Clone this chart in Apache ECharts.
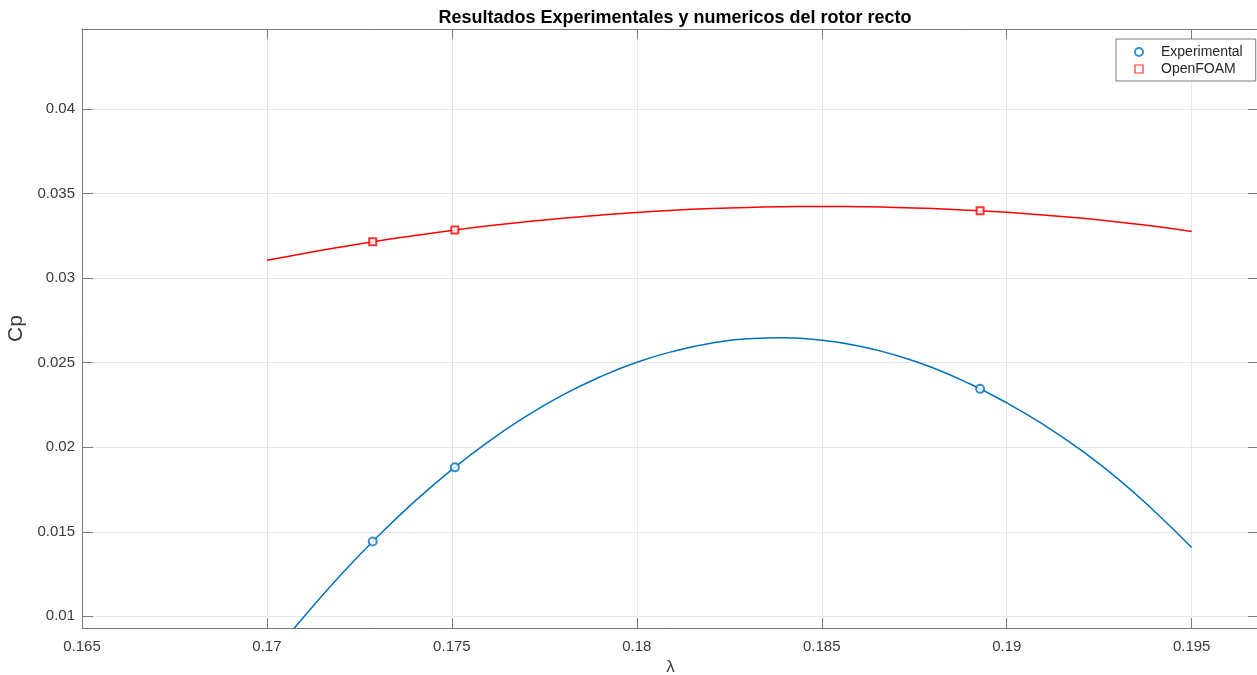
<!DOCTYPE html>
<html>
<head>
<meta charset="utf-8">
<script src="https://cdn.jsdelivr.net/npm/echarts@6/dist/echarts.min.js"></script>
<style>html,body{margin:0;padding:0;background:#fff;}#c{width:1257px;height:675px;}</style>
</head>
<body>
<div id="c"></div>
<script>
// measured points
const lambdaPts = [0.17286, 0.17508, 0.18928];
const cpExperimental = [0.01442, 0.01881, 0.02345];
const cpOpenFOAM = [0.03215, 0.03284, 0.03398];

// fitted curves
const lambdaFit = [0.170,0.171,0.172,0.173,0.174,0.175,0.176,0.177,0.178,0.179,0.180,0.181,0.182,0.183,0.184,0.185,0.186,0.187,0.188,0.189,0.190,0.191,0.192,0.193,0.194,0.195];
const cpExpFit = [0.00730,0.00998,0.01246,0.01473,0.01681,0.01868,0.02035,0.02182,0.02309,0.02415,0.02502,0.02568,0.02615,0.02641,0.02647,0.02633,0.02599,0.02544,0.02470,0.02375,0.02262,0.02133,0.01984,0.01814,0.01620,0.01407];
const cpFoamFit = [0.03105,0.03146,0.03184,0.03220,0.03252,0.03282,0.03309,0.03333,0.03354,0.03372,0.03388,0.03401,0.03411,0.03418,0.03422,0.03424,0.03422,0.03418,0.03411,0.03401,0.03389,0.03373,0.03355,0.03332,0.03306,0.03275];

const xTicks = [0.165,0.17,0.175,0.18,0.185,0.19,0.195];
const yTicks = [0.01,0.015,0.02,0.025,0.03,0.035,0.04];

const fmt = v => String(+(+v).toFixed(4));
const font = '"Liberation Sans", Arial, Helvetica, sans-serif';
const axisCol = '#7a7a7a';
const txtCol = '#3a3a3a';

const chart = echarts.init(document.getElementById('c'));
const zip = (a,b) => a.map((v,i)=>[v,b[i]]);

chart.setOption({
  backgroundColor: '#fff',
  animation: false,
  textStyle: { fontFamily: font },
  title: {
    text: 'Resultados Experimentales y numericos del rotor recto',
    left: 670, top: 4, textAlign: 'center',
    textStyle: { fontFamily: font, fontSize: 18, fontWeight: 'bold', color: '#000' }
  },
  legend: {
    orient: 'vertical', left: 1116, top: 39,
    data: [
      { name: 'Experimental', icon: 'emptyCircle' },
      { name: 'OpenFOAM', icon: 'path://M0,0L10,0L10,10L0,10Z',
        itemStyle: { color: '#fff', borderColor: '#ff0000', borderWidth: 1.2 } }
    ],
    itemWidth: 34, itemHeight: 8, itemGap: 3,
    padding: [6, 13, 5, 18],
    borderColor: axisCol, borderWidth: 1, backgroundColor: '#fff', borderRadius: 0,
    textStyle: { fontFamily: font, fontSize: 14, color: '#262626' }
  },
  grid: { left: 82, top: 29, width: 1177, height: 599, outerBoundsMode: 'none', containLabel: false },
  xAxis: [{
    type: 'value', position: 'bottom', min: 0.165, max: 0.19682,
    axisLine: { show: true, lineStyle: { color: axisCol, width: 1 } },
    axisTick: { show: true, inside: true, length: 10, customValues: xTicks, lineStyle: { color: axisCol } },
    axisLabel: { customValues: xTicks, formatter: fmt, fontSize: 15, color: txtCol, margin: 11, fontFamily: font },
    splitLine: { show: true, lineStyle: { color: '#e6e6e6', width: 1 } },
    name: 'λ', nameLocation: 'middle', nameGap: 22,
    nameTextStyle: { fontSize: 17, color: txtCol, fontFamily: font }
  }, {
    type: 'value', position: 'top', min: 0.165, max: 0.19682,
    axisLine: { show: true, lineStyle: { color: axisCol, width: 1 } },
    axisTick: { show: true, inside: true, length: 10, customValues: xTicks, lineStyle: { color: axisCol } },
    axisLabel: { show: false }, splitLine: { show: false }
  }],
  yAxis: [{
    type: 'value', position: 'left', min: 0.00931, max: 0.04473,
    axisLine: { show: true, lineStyle: { color: axisCol, width: 1 } },
    axisTick: { show: true, inside: true, length: 11, customValues: yTicks, lineStyle: { color: axisCol } },
    axisLabel: { customValues: yTicks, formatter: fmt, fontSize: 15, color: txtCol, margin: 7, fontFamily: font },
    splitLine: { show: true, lineStyle: { color: '#e6e6e6', width: 1 } },
    name: 'Cp', nameLocation: 'middle', nameGap: 41,
    nameTextStyle: { fontSize: 21, color: txtCol, fontFamily: font }
  }, {
    type: 'value', position: 'right', min: 0.00931, max: 0.04473,
    axisLine: { show: true, lineStyle: { color: axisCol, width: 1 } },
    axisTick: { show: true, inside: true, length: 11, customValues: yTicks, lineStyle: { color: axisCol } },
    axisLabel: { show: false }, splitLine: { show: false }
  }],
  series: [{
    name: 'ExpFit', type: 'line', xAxisIndex: 0, yAxisIndex: 0,
    data: zip(lambdaFit, cpExpFit), smooth: true, showSymbol: false, clip: true,
    lineStyle: { color: '#0072BD', width: 1.5 }, itemStyle: { color: '#0072BD' }, silent: true
  }, {
    name: 'FoamFit', type: 'line', xAxisIndex: 0, yAxisIndex: 0,
    data: zip(lambdaFit, cpFoamFit), smooth: true, showSymbol: false, clip: true,
    lineStyle: { color: '#ff0000', width: 1.5 }, itemStyle: { color: '#ff0000' }, silent: true
  }, {
    name: 'Experimental', type: 'scatter', xAxisIndex: 0, yAxisIndex: 0,
    data: zip(lambdaPts, cpExperimental), symbol: 'emptyCircle', symbolSize: 8,
    itemStyle: { color: '#0072BD', borderColor: '#0072BD', borderWidth: 1.2 }, z: 5
  }, {
    name: 'OpenFOAM', type: 'scatter', xAxisIndex: 0, yAxisIndex: 0,
    data: zip(lambdaPts, cpOpenFOAM), symbol: 'emptyRect', symbolSize: 7,
    itemStyle: { color: '#ff0000', borderColor: '#ff0000', borderWidth: 1.2 }, z: 5
  }]
});
</script>
</body>
</html>
